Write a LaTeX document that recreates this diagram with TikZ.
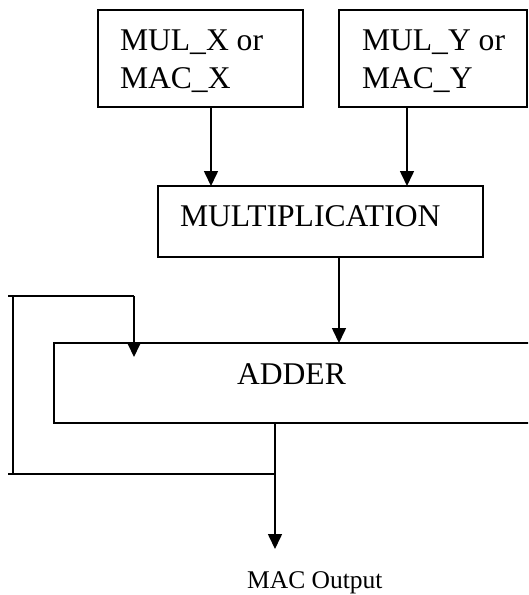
\documentclass[tikz,border=0pt]{standalone}
\usepackage{fontspec}
\setmainfont{Liberation Serif}
\usetikzlibrary{arrows.meta}
\begin{document}
\begin{tikzpicture}[x=1pt,y=-1pt,
  blk/.style={draw=black, line width=1.6pt, minimum width=0pt, minimum height=0pt, inner sep=0pt, outer sep=0pt, rectangle},
  lbl/.style={inner sep=0pt, outer sep=0pt, anchor=base west, font=\fontsize{31.6}{38}\selectfont},
  wire/.style={line width=1.6pt},
  arr/.style={line width=1.6pt, -{Triangle[length=15pt,width=14pt]}}]
  \clip (0,0) rectangle (528,595);
  \fill[white] (0,0) rectangle (528,595);

  % operand registers
  \node[blk, anchor=north west, minimum width=205pt, minimum height=97pt] (regx) at (98,10) {};
  \node[blk, anchor=north west, minimum width=188pt, minimum height=97pt] (regy) at (339,10) {};
  \node[lbl] (tx1) at (120,50) {MUL\_X or};
  \node[lbl] (tx2) at (120,88) {MAC\_X};
  \node[lbl] (ty1) at (362,50) {MUL\_Y or};
  \node[lbl] (ty2) at (362,88) {MAC\_Y};

  % multiplier
  \node[blk, anchor=north west, minimum width=325pt, minimum height=71pt] (mul) at (158,186) {};
  \node[lbl] (tmul) at (180,226) {MULTIPLICATION};

  % adder (runs past the right edge)
  \node[blk, anchor=north west, minimum width=500pt, minimum height=80pt] (add) at (54,343) {};
  \node[lbl] (tadd) at (237,384) {ADDER};

  % output label
  \node[inner sep=0pt, anchor=base west, font=\fontsize{25.5}{30}\selectfont] (out) at (247,588) {MAC Output};

  % feedback corners
  \coordinate (fbtop) at (134,296);
  \coordinate (fbtl) at (8,296);
  \coordinate (fbbl) at (8,474);
  \coordinate (fbj) at (275,474);
  \coordinate (otip) at (275,549);

  % data paths
  \draw[arr] (regx.south -| 211,0) -- (mul.north -| 211,0);
  \draw[arr] (regy.south -| 407,0) -- (mul.north -| 407,0);
  \draw[arr] (mul.south -| 339,0) -- (add.north -| 339,0);
  \draw[arr] (add.south -| fbj) -- (otip);

  % accumulator feedback loop
  \draw[wire] (fbbl) -- (fbj);
  \draw[wire] (13,296) -- (13,474);
  \draw[wire] (fbtl) -- (fbtop);
  \draw[arr] (fbtop) -- (134,357);
\end{tikzpicture}
\end{document}
